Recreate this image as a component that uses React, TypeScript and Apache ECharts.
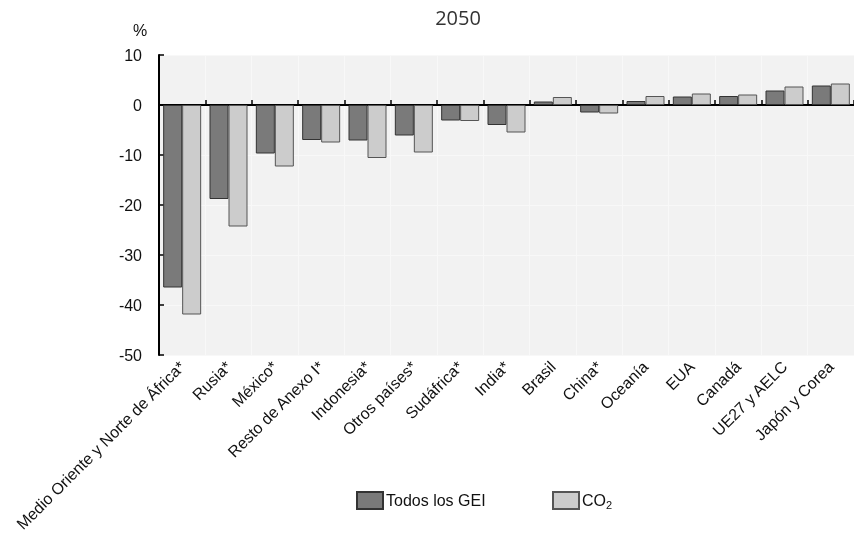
import React, { useEffect, useRef } from "react";
import * as echarts from "echarts";

const categories = [
  "Medio Oriente y Norte de África*",
  "Rusia*",
  "México*",
  "Resto de Anexo I*",
  "Indonesia*",
  "Otros países*",
  "Sudáfrica*",
  "India*",
  "Brasil",
  "China*",
  "Oceanía",
  "EUA",
  "Canadá",
  "UE27 y AELC",
  "Japón y Corea",
];

const todosGEI = [-36.5, -18.8, -9.7, -7.0, -7.1, -6.1, -3.1, -4.0, 0.7, -1.5, 0.8, 1.7, 1.8, 2.9, 3.9];
const co2 = [-41.9, -24.3, -12.3, -7.5, -10.6, -9.5, -3.2, -5.5, 1.6, -1.7, 1.8, 2.3, 2.1, 3.7, 4.3];

const yTicks = { min: -50, max: 10, interval: 10 };

const FONT = "'Liberation Sans', Arial, sans-serif";

export default function App() {
  const ref = useRef<HTMLDivElement>(null);
  useEffect(() => {
    if (!ref.current) return;
    const chart = echarts.init(ref.current, undefined, { renderer: "svg" });
    const gridW = 15 * 47.3;
    chart.setOption({
      animation: false,
      title: {
        text: "2050",
        left: 453,
        textAlign: "center",
        top: 2,
        textStyle: { fontFamily: "'Open Sans', sans-serif", fontSize: 20, fontWeight: "normal", color: "#333" },
      },
      graphic: [
        {
          type: "text",
          left: 133,
          top: 22,
          style: { text: "%", fontFamily: FONT, fontSize: 16, fill: "#111" },
        },
      ],
      legend: [
        {
          left: 351,
          top: 486,
          icon: "rect",
          itemWidth: 26,
          itemHeight: 17,
          itemGap: 4,
          data: ["Todos los GEI"],
          textStyle: { fontFamily: FONT, fontSize: 16, color: "#111", padding: [0, 0, 0, -2] },
        },
        {
          left: 547,
          top: 486,
          icon: "rect",
          itemWidth: 26,
          itemHeight: 17,
          data: ["CO2"],
          formatter: () => "{a|CO}{b|2}",
          textStyle: {
            fontFamily: FONT,
            fontSize: 16,
            color: "#111",
            padding: [0, 0, 0, -2],
            rich: {
              a: { fontFamily: FONT, fontSize: 16, color: "#111" },
              b: { fontFamily: FONT, fontSize: 11, color: "#111", padding: [9, 0, 0, 0] },
            },
          },
        },
      ],
      grid: {
        left: 159,
        top: 55,
        width: gridW,
        height: 300,
        show: true,
        backgroundColor: "#f2f2f2",
        borderWidth: 0,
        containLabel: false,
      },
      xAxis: [
        {
          type: "category",
          data: categories,
          position: "bottom",
          axisLine: { show: false, onZero: false },
          axisTick: { show: false },
          splitLine: { show: true, interval: 0, lineStyle: { color: "#f8f8f8", width: 1 } },
          axisLabel: {
            rotate: 45,
            interval: 0,
            margin: 9,
            fontFamily: FONT,
            fontSize: 16,
            color: "#111",
          },
        },
        {
          type: "category",
          data: categories,
          position: "bottom",
          axisLine: { show: true, onZero: true, lineStyle: { color: "#000", width: 2 } },
          axisTick: { show: true, interval: 0, inside: true, length: 5, lineStyle: { color: "#000", width: 1.5 } },
          axisLabel: { show: false, interval: 0 },
          splitLine: { show: false },
        },
      ],
      yAxis: {
        type: "value",
        min: yTicks.min,
        max: yTicks.max,
        interval: yTicks.interval,
        axisLine: { show: true, lineStyle: { color: "#000", width: 2 } },
        axisTick: { show: true, inside: true, length: 5, lineStyle: { color: "#000", width: 1.5 } },
        splitLine: { show: true, lineStyle: { color: "#f8f8f8", width: 1 } },
        axisLabel: { margin: 17, fontFamily: FONT, fontSize: 16, color: "#111" },
      },
      series: [
        {
          name: "Todos los GEI",
          type: "bar",
          xAxisIndex: 0,
          data: todosGEI,
          barWidth: 19,
          barGap: "0%",
          itemStyle: { color: "#7a7a7a", borderColor: "#333", borderWidth: 1 },
        },
        {
          name: "CO2",
          type: "bar",
          xAxisIndex: 0,
          data: co2,
          barWidth: 19,
          barGap: "0%",
          itemStyle: { color: "#cccccc", borderColor: "#555", borderWidth: 1 },
        },
      ],
    });
    return () => chart.dispose();
  }, []);
  return <div ref={ref} style={{ position: "fixed", left: 0, top: 0, width: 854, height: 538 }} />;
}
